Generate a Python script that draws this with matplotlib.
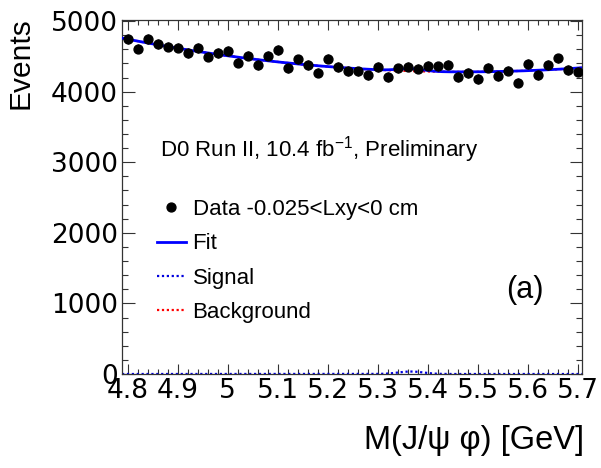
import numpy as np
import matplotlib
matplotlib.use("Agg")
import matplotlib.pyplot as plt
from matplotlib.lines import Line2D
from matplotlib.ticker import MultipleLocator, FixedLocator, FixedFormatter

# ---- data: J/psi phi invariant mass, 0.02 GeV bins ----
mass_bins = np.round(np.arange(4.80, 5.7001, 0.02), 2)
events = [4742, 4609, 4751, 4671, 4638, 4624, 4544, 4615, 4496, 4544, 4577, 4411,
          4510, 4378, 4510, 4587, 4332, 4459, 4378, 4269, 4468, 4350, 4293, 4290,
          4232, 4350, 4208, 4332, 4355, 4326, 4369, 4359, 4383, 4208, 4265, 4180,
          4340, 4222, 4298, 4128, 4392, 4237, 4378, 4473, 4307, 4284]

# fit model: quadratic background + Gaussian B_s signal (events per bin)
bkg_min = 4280.0
bkg_vertex = 5.47
bkg_curv = 1032.0
sig_amp = 35.0
sig_mean = 5.366
sig_width = 0.025

x_ticks = [4.8, 4.9, 5.0, 5.1, 5.2, 5.3, 5.4, 5.5, 5.6, 5.7]
x_tick_labels = ["4.8", "4.9", "5", "5.1", "5.2", "5.3", "5.4", "5.5", "5.6", "5.7"]
y_ticks = [0, 1000, 2000, 3000, 4000, 5000]
y_tick_labels = ["0", "1000", "2000", "3000", "4000", "5000"]

plt.rcParams["font.family"] = ["Liberation Sans", "DejaVu Sans"]
plt.rcParams["mathtext.fontset"] = "custom"
plt.rcParams["mathtext.rm"] = "Liberation Sans"
plt.rcParams["mathtext.it"] = "Liberation Sans:italic"

W, H = 601, 468
fig = plt.figure(figsize=(W / 100, H / 100), dpi=100)
ax = fig.add_axes([122 / W, 1 - 374 / H, (582 - 122) / W, (374 - 20) / H])

xlo, xhi = 4.789, 5.708
ax.set_xlim(xlo, xhi)
ax.set_ylim(0, 5015)

xf = np.linspace(xlo, xhi, 600)
bkg = bkg_min + bkg_curv * (xf - bkg_vertex) ** 2
sig = sig_amp * np.exp(-0.5 * ((xf - sig_mean) / sig_width) ** 2)
fit = bkg + sig

ax.plot(xf, bkg, color="#ff0000", lw=1.6, ls=(0, (1, 1.2)), zorder=2)
ax.plot(xf, sig, color="#0000dd", lw=1.6, ls=(0, (1, 1.2)), zorder=2)
ax.plot(xf, fit, color="#0000ff", lw=2.0, zorder=3)

ev = np.array(events, dtype=float)
ax.errorbar(mass_bins, ev, yerr=np.sqrt(ev), fmt="o", color="black",
            ms=6.4, elinewidth=1.0, capsize=0, zorder=4)

# axis styling: ticks inside on all four sides
ax.xaxis.set_major_locator(FixedLocator(x_ticks))
ax.xaxis.set_major_formatter(FixedFormatter(x_tick_labels))
ax.xaxis.set_minor_locator(MultipleLocator(0.02))
ax.yaxis.set_major_locator(FixedLocator(y_ticks))
ax.yaxis.set_major_formatter(FixedFormatter(y_tick_labels))
ax.yaxis.set_minor_locator(MultipleLocator(200))
ax.tick_params(which="both", direction="in", top=True, right=True,
               width=0.8, color="#333333")
ax.tick_params(axis="y", which="major", length=9)
ax.tick_params(axis="y", which="minor", length=4.3)
ax.tick_params(axis="x", which="major", length=7.2)
ax.tick_params(axis="x", which="minor", length=3.4)
ax.tick_params(axis="both", which="major", labelsize=19, pad=3)
for lab in ax.get_xticklabels() + ax.get_yticklabels():
    lab.set_family("DejaVu Sans")
for sp in ax.spines.values():
    sp.set_linewidth(0.9)
    sp.set_color("#333333")

fig.text(21 / W, 1 - 17 / H, "Events", rotation=90, ha="center", va="top",
         fontsize=21.5)
fig.text(584 / W, 1 - 441 / H, "M(J/\u03c8 \u03c6) [GeV]", ha="right",
         va="center", fontsize=23.5)

# header text, placed in pixel coordinates
fig.text(160 / W, 1 - 157 / H, "D0 Run II, 10.4 fb$^{-1}$, Preliminary",
         fontsize=16, ha="left", va="baseline")
ax.text(5.593, 1190, "(a)", fontsize=22, ha="center", va="center")

handles = [
    Line2D([], [], color="black", marker="o", ms=6.4, ls="none"),
    Line2D([], [], color="#0000ff", lw=2.0),
    Line2D([], [], color="#0000dd", lw=1.6, ls=(0, (1, 1.2))),
    Line2D([], [], color="#ff0000", lw=1.6, ls=(0, (1, 1.2))),
]
labels = ["Data -0.025<Lxy<0 cm", "Fit", "Signal", "Background"]
leg = ax.legend(handles, labels, loc="upper left",
                bbox_to_anchor=(157 / W, 1 - 199 / H),
                bbox_transform=fig.transFigure, frameon=False, fontsize=16,
                borderpad=0, borderaxespad=0, handlelength=1.3,
                handletextpad=0.3, labelspacing=0.6)

fig.savefig("out.png", dpi=100)
